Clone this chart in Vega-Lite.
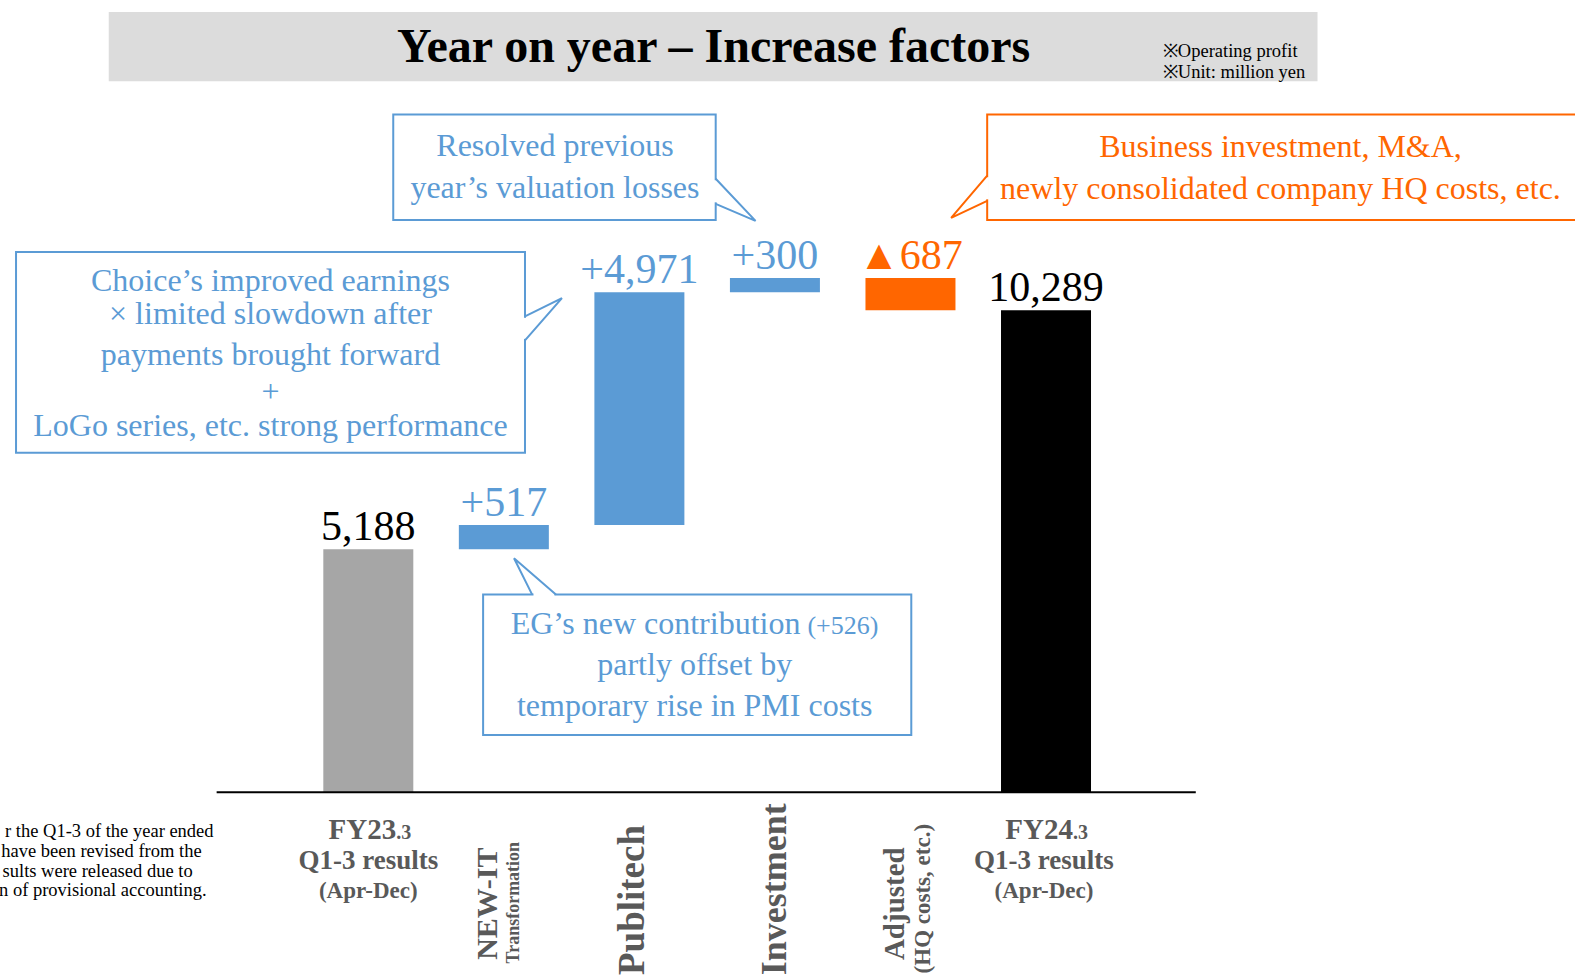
{
  "$schema": "https://vega.github.io/schema/vega-lite/v6.json",
  "width": 1575,
  "height": 977,
  "autosize": "none",
  "padding": 0,
  "background": "#ffffff",
  "config": {"view": {"stroke": null}, "text": {"font": "Liberation Serif"}},
  "datasets": {
    "band": [{"x1": -0.915, "x2": 8.003, "y1": 16655, "y2": 15176}],
    "title": [{"text": "Year on year – Increase factors", "x": 3.548, "y": 15583}],
    "notes": [
      {"text": "※Operating profit", "x": 6.862, "y": 15690},
      {"text": "※Unit: million yen", "x": 6.862, "y": 15240}
    ],
    "bars": [
      {"item": "FY23.3 Q1-3 results", "step": 1, "start": 0, "end": 5188, "kind": "base", "label": "5,188"},
      {"item": "NEW-IT Transformation", "step": 2, "start": 5188, "end": 5705, "kind": "increase", "label": "+517"},
      {"item": "Publitech", "step": 3, "start": 5705, "end": 10676, "kind": "increase", "label": "+4,971"},
      {"item": "Investment", "step": 4, "start": 10676, "end": 10976, "kind": "increase", "label": "+300"},
      {"item": "Adjusted (HQ costs, etc.)", "step": 5, "start": 10976, "end": 10289, "kind": "decrease", "label": "▲687"},
      {"item": "FY24.3 Q1-3 results", "step": 6, "start": 0, "end": 10289, "kind": "result", "label": "10,289"}
    ],
    "axisline": [{"x1": -0.119, "x2": 7.105, "y": 0}],
    "boxes": [
      {"box": "choice", "kind": "increase", "x1": -1.599, "x2": 2.156, "y1": 11532, "y2": 7245},
      {"box": "valuation", "kind": "increase", "x1": 1.184, "x2": 3.563, "y1": 14469, "y2": 12218},
      {"box": "eg", "kind": "increase", "x1": 1.847, "x2": 5.006, "y1": 4223, "y2": 1222},
      {"box": "business", "kind": "decrease", "x1": 5.566, "x2": 10.2, "y1": 14469, "y2": 12218}
    ],
    "covers": [
      {"x1": 2.156, "x2": 2.156, "y1": 10128, "y2": 9678},
      {"x1": 3.563, "x2": 3.563, "y1": 13065, "y2": 12593},
      {"x1": 5.566, "x2": 5.566, "y1": 13129, "y2": 12657},
      {"x1": 2.2187, "x2": 2.3733, "y1": 4223, "y2": 4223}
    ],
    "tails": [
      {"tail": "choice", "kind": "increase", "o": 1, "x": 2.156, "y": 10160},
      {"tail": "choice", "kind": "increase", "o": 2, "x": 2.4286, "y": 10546},
      {"tail": "choice", "kind": "increase", "o": 3, "x": 2.156, "y": 9646},
      {"tail": "valuation", "kind": "increase", "o": 1, "x": 3.563, "y": 13097},
      {"tail": "valuation", "kind": "increase", "o": 2, "x": 3.857, "y": 12197},
      {"tail": "valuation", "kind": "increase", "o": 3, "x": 3.563, "y": 12561},
      {"tail": "eg", "kind": "increase", "o": 1, "x": 2.208, "y": 4223},
      {"tail": "eg", "kind": "increase", "o": 2, "x": 2.075, "y": 4994},
      {"tail": "eg", "kind": "increase", "o": 3, "x": 2.384, "y": 4223},
      {"tail": "business", "kind": "decrease", "o": 1, "x": 5.566, "y": 13161},
      {"tail": "business", "kind": "decrease", "o": 2, "x": 5.300, "y": 12261},
      {"tail": "business", "kind": "decrease", "o": 3, "x": 5.566, "y": 12625}
    ],
    "boxText": [
      {"kind": "increase", "x": 0.2784, "y": 10696, "text": "Choice’s improved earnings"},
      {"kind": "increase", "x": 0.2784, "y": 9989, "text": "× limited slowdown after"},
      {"kind": "increase", "x": 0.2784, "y": 9110, "text": "payments brought forward"},
      {"kind": "increase", "x": 0.2784, "y": 7609, "text": "LoGo series, etc. strong performance"},
      {"kind": "increase", "x": 2.377, "y": 13590, "text": "Resolved previous"},
      {"kind": "increase", "x": 2.377, "y": 12690, "text": "year’s valuation losses"},
      {"kind": "increase", "x": 3.408, "y": 2508, "text": "partly offset by"},
      {"kind": "increase", "x": 3.408, "y": 1629, "text": "temporary rise in PMI costs"},
      {"kind": "decrease", "x": 7.730, "y": 13568, "text": "Business investment, M&A,"},
      {"kind": "decrease", "x": 7.730, "y": 12668, "text": "newly consolidated company HQ costs, etc."}
    ],
    "plusSign": [{"kind": "increase", "x": 0.2784, "y": 8320, "text": "+"}],
    "egMain": [{"kind": "increase", "x": 4.188, "y": 3387, "text": "EG’s new contribution"}],
    "egSmall": [{"kind": "increase", "x": 4.240, "y": 3387, "text": "(+526)"}],
    "catFY": [
      {"text": "FY23", "x": 1.206, "y": -1007},
      {"text": "FY24", "x": 6.199, "y": -1007}
    ],
    "catDot": [
      {"text": ".3", "x": 1.206, "y": -1007},
      {"text": ".3", "x": 6.199, "y": -1007}
    ],
    "catMid": [
      {"text": "Q1-3 results", "x": 1.0, "y": -1629},
      {"text": "Q1-3 results", "x": 5.985, "y": -1629}
    ],
    "catLow": [
      {"text": "(Apr-Dec)", "x": 1.0, "y": -2251},
      {"text": "(Apr-Dec)", "x": 5.985, "y": -2251}
    ],
    "footnote": [
      {"text": "r the Q1-3 of the year ended", "x": -0.1414, "y": -965},
      {"text": "have been revised from the", "x": -0.2297, "y": -1372},
      {"text": "sults were released due to", "x": -0.296, "y": -1801},
      {"text": "n of provisional accounting.", "x": -0.193, "y": -2208}
    ]
  },
  "layer": [
    {
      "data": {"name": "band"},
      "mark": {"type": "rect", "color": "#dcdcdc"},
      "encoding": {
        "x": {"field": "x1", "type": "quantitative", "scale": {"domain": [-1.6804, 9.8659], "nice": false, "zero": false}, "axis": null},
        "x2": {"field": "x2"},
        "y": {"field": "y1", "type": "quantitative", "scale": {"domain": [-3944, 16912], "nice": false, "zero": false}, "axis": null},
        "y2": {"field": "y2"}
      }
    },
    {
      "data": {"name": "title"},
      "mark": {"type": "text", "font": "Liberation Serif", "fontSize": 48, "fontWeight": "bold", "color": "#000000", "align": "center", "baseline": "alphabetic"},
      "encoding": {
        "x": {"field": "x", "type": "quantitative", "axis": null},
        "y": {"field": "y", "type": "quantitative", "axis": null},
        "text": {"field": "text"}
      }
    },
    {
      "data": {"name": "notes"},
      "mark": {"type": "text", "font": "Liberation Serif", "fontSize": 18.5, "color": "#000000", "align": "left", "baseline": "alphabetic"},
      "encoding": {
        "x": {"field": "x", "type": "quantitative", "axis": null},
        "y": {"field": "y", "type": "quantitative", "axis": null},
        "text": {"field": "text"}
      }
    },
    {
      "data": {"name": "bars"},
      "mark": {"type": "bar", "width": 90},
      "encoding": {
        "x": {"field": "step", "type": "quantitative", "axis": null},
        "y": {"field": "start", "type": "quantitative", "axis": null},
        "y2": {"field": "end"},
        "color": {"field": "kind", "type": "nominal", "scale": {"domain": ["base", "increase", "decrease", "result"], "range": ["#a6a6a6", "#5b9bd5", "#ff6600", "#000000"]}, "legend": null}
      }
    },
    {
      "data": {"name": "bars"},
      "transform": [{"filter": "datum.kind != 'decrease'"}],
      "mark": {"type": "text", "font": "Liberation Serif", "fontSize": 42, "align": "center", "baseline": "alphabetic", "dy": -9},
      "encoding": {
        "x": {"field": "step", "type": "quantitative", "axis": null},
        "y": {"field": "end", "type": "quantitative", "axis": null},
        "text": {"field": "label"},
        "fill": {"field": "kind", "type": "nominal", "scale": {"domain": ["base", "increase", "decrease", "result"], "range": ["#000000", "#5b9bd5", "#ff6600", "#000000"]}, "legend": null}
      }
    },
    {
      "data": {"name": "bars"},
      "transform": [{"filter": "datum.kind == 'decrease'"}],
      "mark": {"type": "text", "font": "Liberation Serif", "fontSize": 42, "align": "center", "baseline": "alphabetic", "dy": -9},
      "encoding": {
        "x": {"field": "step", "type": "quantitative", "axis": null},
        "y": {"field": "start", "type": "quantitative", "axis": null},
        "text": {"field": "label"},
        "fill": {"field": "kind", "type": "nominal", "legend": null}
      }
    },
    {
      "data": {"name": "axisline"},
      "mark": {"type": "rule", "color": "#000000", "strokeWidth": 2},
      "encoding": {
        "x": {"field": "x1", "type": "quantitative", "axis": null},
        "x2": {"field": "x2"},
        "y": {"field": "y", "type": "quantitative", "axis": null}
      }
    },
    {
      "data": {"name": "boxes"},
      "mark": {"type": "rect", "fill": "#ffffff", "strokeWidth": 2},
      "encoding": {
        "x": {"field": "x1", "type": "quantitative", "axis": null},
        "x2": {"field": "x2"},
        "y": {"field": "y1", "type": "quantitative", "axis": null},
        "y2": {"field": "y2"},
        "stroke": {"field": "kind", "type": "nominal", "scale": {"domain": ["increase", "decrease"], "range": ["#5b9bd5", "#ff6600"]}, "legend": null}
      }
    },
    {
      "data": {"name": "covers"},
      "mark": {"type": "rule", "color": "#ffffff", "strokeWidth": 3.5},
      "encoding": {
        "x": {"field": "x1", "type": "quantitative", "axis": null},
        "x2": {"field": "x2"},
        "y": {"field": "y1", "type": "quantitative", "axis": null},
        "y2": {"field": "y2"}
      }
    },
    {
      "data": {"name": "tails"},
      "mark": {"type": "line", "strokeWidth": 2},
      "encoding": {
        "x": {"field": "x", "type": "quantitative", "axis": null},
        "y": {"field": "y", "type": "quantitative", "axis": null},
        "detail": {"field": "tail", "type": "nominal"},
        "order": {"field": "o", "type": "quantitative"},
        "stroke": {"field": "kind", "type": "nominal", "legend": null}
      }
    },
    {
      "data": {"name": "boxText"},
      "mark": {"type": "text", "font": "Liberation Serif", "fontSize": 32, "align": "center", "baseline": "alphabetic"},
      "encoding": {
        "x": {"field": "x", "type": "quantitative", "axis": null},
        "y": {"field": "y", "type": "quantitative", "axis": null},
        "text": {"field": "text"},
        "color": {"field": "kind", "type": "nominal", "legend": null}
      }
    },
    {
      "data": {"name": "plusSign"},
      "mark": {"type": "text", "font": "Liberation Serif", "fontSize": 32, "align": "center", "baseline": "alphabetic"},
      "encoding": {
        "x": {"field": "x", "type": "quantitative", "axis": null},
        "y": {"field": "y", "type": "quantitative", "axis": null},
        "text": {"field": "text"},
        "color": {"field": "kind", "type": "nominal", "legend": null}
      }
    },
    {
      "data": {"name": "egMain"},
      "mark": {"type": "text", "font": "Liberation Serif", "fontSize": 32, "align": "right", "baseline": "alphabetic"},
      "encoding": {
        "x": {"field": "x", "type": "quantitative", "axis": null},
        "y": {"field": "y", "type": "quantitative", "axis": null},
        "text": {"field": "text"},
        "color": {"field": "kind", "type": "nominal", "legend": null}
      }
    },
    {
      "data": {"name": "egSmall"},
      "mark": {"type": "text", "font": "Liberation Serif", "fontSize": 26, "align": "left", "baseline": "alphabetic"},
      "encoding": {
        "x": {"field": "x", "type": "quantitative", "axis": null},
        "y": {"field": "y", "type": "quantitative", "axis": null},
        "text": {"field": "text"},
        "color": {"field": "kind", "type": "nominal", "legend": null}
      }
    },
    {
      "data": {"name": "catFY"},
      "mark": {"type": "text", "font": "Liberation Serif", "fontSize": 29, "fontWeight": "bold", "color": "#595959", "align": "right", "baseline": "alphabetic"},
      "encoding": {
        "x": {"field": "x", "type": "quantitative", "axis": null},
        "y": {"field": "y", "type": "quantitative", "axis": null},
        "text": {"field": "text"}
      }
    },
    {
      "data": {"name": "catDot"},
      "mark": {"type": "text", "font": "Liberation Serif", "fontSize": 20, "fontWeight": "bold", "color": "#595959", "align": "left", "baseline": "alphabetic"},
      "encoding": {
        "x": {"field": "x", "type": "quantitative", "axis": null},
        "y": {"field": "y", "type": "quantitative", "axis": null},
        "text": {"field": "text"}
      }
    },
    {
      "data": {"name": "catMid"},
      "mark": {"type": "text", "font": "Liberation Serif", "fontSize": 27, "fontWeight": "bold", "color": "#595959", "align": "center", "baseline": "alphabetic"},
      "encoding": {
        "x": {"field": "x", "type": "quantitative", "axis": null},
        "y": {"field": "y", "type": "quantitative", "axis": null},
        "text": {"field": "text"}
      }
    },
    {
      "data": {"name": "catLow"},
      "mark": {"type": "text", "font": "Liberation Serif", "fontSize": 23, "fontWeight": "bold", "color": "#595959", "align": "center", "baseline": "alphabetic"},
      "encoding": {
        "x": {"field": "x", "type": "quantitative", "axis": null},
        "y": {"field": "y", "type": "quantitative", "axis": null},
        "text": {"field": "text"}
      }
    },
    {
      "data": {"values": [{"text": "NEW-IT", "x": 1.950, "y": -2379}]},
      "mark": {"type": "text", "font": "Liberation Serif", "fontSize": 30, "fontWeight": "bold", "color": "#595959", "align": "center", "baseline": "alphabetic", "angle": 270},
      "encoding": {
        "x": {"field": "x", "type": "quantitative", "axis": null},
        "y": {"field": "y", "type": "quantitative", "axis": null},
        "text": {"field": "text"}
      }
    },
    {
      "data": {"values": [{"text": "Transformation", "x": 2.112, "y": -2358}]},
      "mark": {"type": "text", "font": "Liberation Serif", "fontSize": 18, "fontWeight": "bold", "color": "#595959", "align": "center", "baseline": "alphabetic", "angle": 270},
      "encoding": {
        "x": {"field": "x", "type": "quantitative", "axis": null},
        "y": {"field": "y", "type": "quantitative", "axis": null},
        "text": {"field": "text"}
      }
    },
    {
      "data": {"values": [{"text": "Publitech", "x": 3.032, "y": -2300}]},
      "mark": {"type": "text", "font": "Liberation Serif", "fontSize": 37, "fontWeight": "bold", "color": "#595959", "align": "center", "baseline": "alphabetic", "angle": 270},
      "encoding": {
        "x": {"field": "x", "type": "quantitative", "axis": null},
        "y": {"field": "y", "type": "quantitative", "axis": null},
        "text": {"field": "text"}
      }
    },
    {
      "data": {"values": [{"text": "Investment", "x": 4.078, "y": -2070}]},
      "mark": {"type": "text", "font": "Liberation Serif", "fontSize": 36, "fontWeight": "bold", "color": "#595959", "align": "center", "baseline": "alphabetic", "angle": 270},
      "encoding": {
        "x": {"field": "x", "type": "quantitative", "axis": null},
        "y": {"field": "y", "type": "quantitative", "axis": null},
        "text": {"field": "text"}
      }
    },
    {
      "data": {"values": [{"text": "Adjusted", "x": 4.954, "y": -2379}]},
      "mark": {"type": "text", "font": "Liberation Serif", "fontSize": 29, "fontWeight": "bold", "color": "#595959", "align": "center", "baseline": "alphabetic", "angle": 270},
      "encoding": {
        "x": {"field": "x", "type": "quantitative", "axis": null},
        "y": {"field": "y", "type": "quantitative", "axis": null},
        "text": {"field": "text"}
      }
    },
    {
      "data": {"values": [{"text": "(HQ costs, etc.)", "x": 5.146, "y": -2272}]},
      "mark": {"type": "text", "font": "Liberation Serif", "fontSize": 23, "fontWeight": "bold", "color": "#595959", "align": "center", "baseline": "alphabetic", "angle": 270},
      "encoding": {
        "x": {"field": "x", "type": "quantitative", "axis": null},
        "y": {"field": "y", "type": "quantitative", "axis": null},
        "text": {"field": "text"}
      }
    },
    {
      "data": {"name": "footnote"},
      "mark": {"type": "text", "font": "Liberation Serif", "fontSize": 18.5, "color": "#000000", "align": "right", "baseline": "alphabetic"},
      "encoding": {
        "x": {"field": "x", "type": "quantitative", "axis": null},
        "y": {"field": "y", "type": "quantitative", "axis": null},
        "text": {"field": "text"}
      }
    }
  ]
}
